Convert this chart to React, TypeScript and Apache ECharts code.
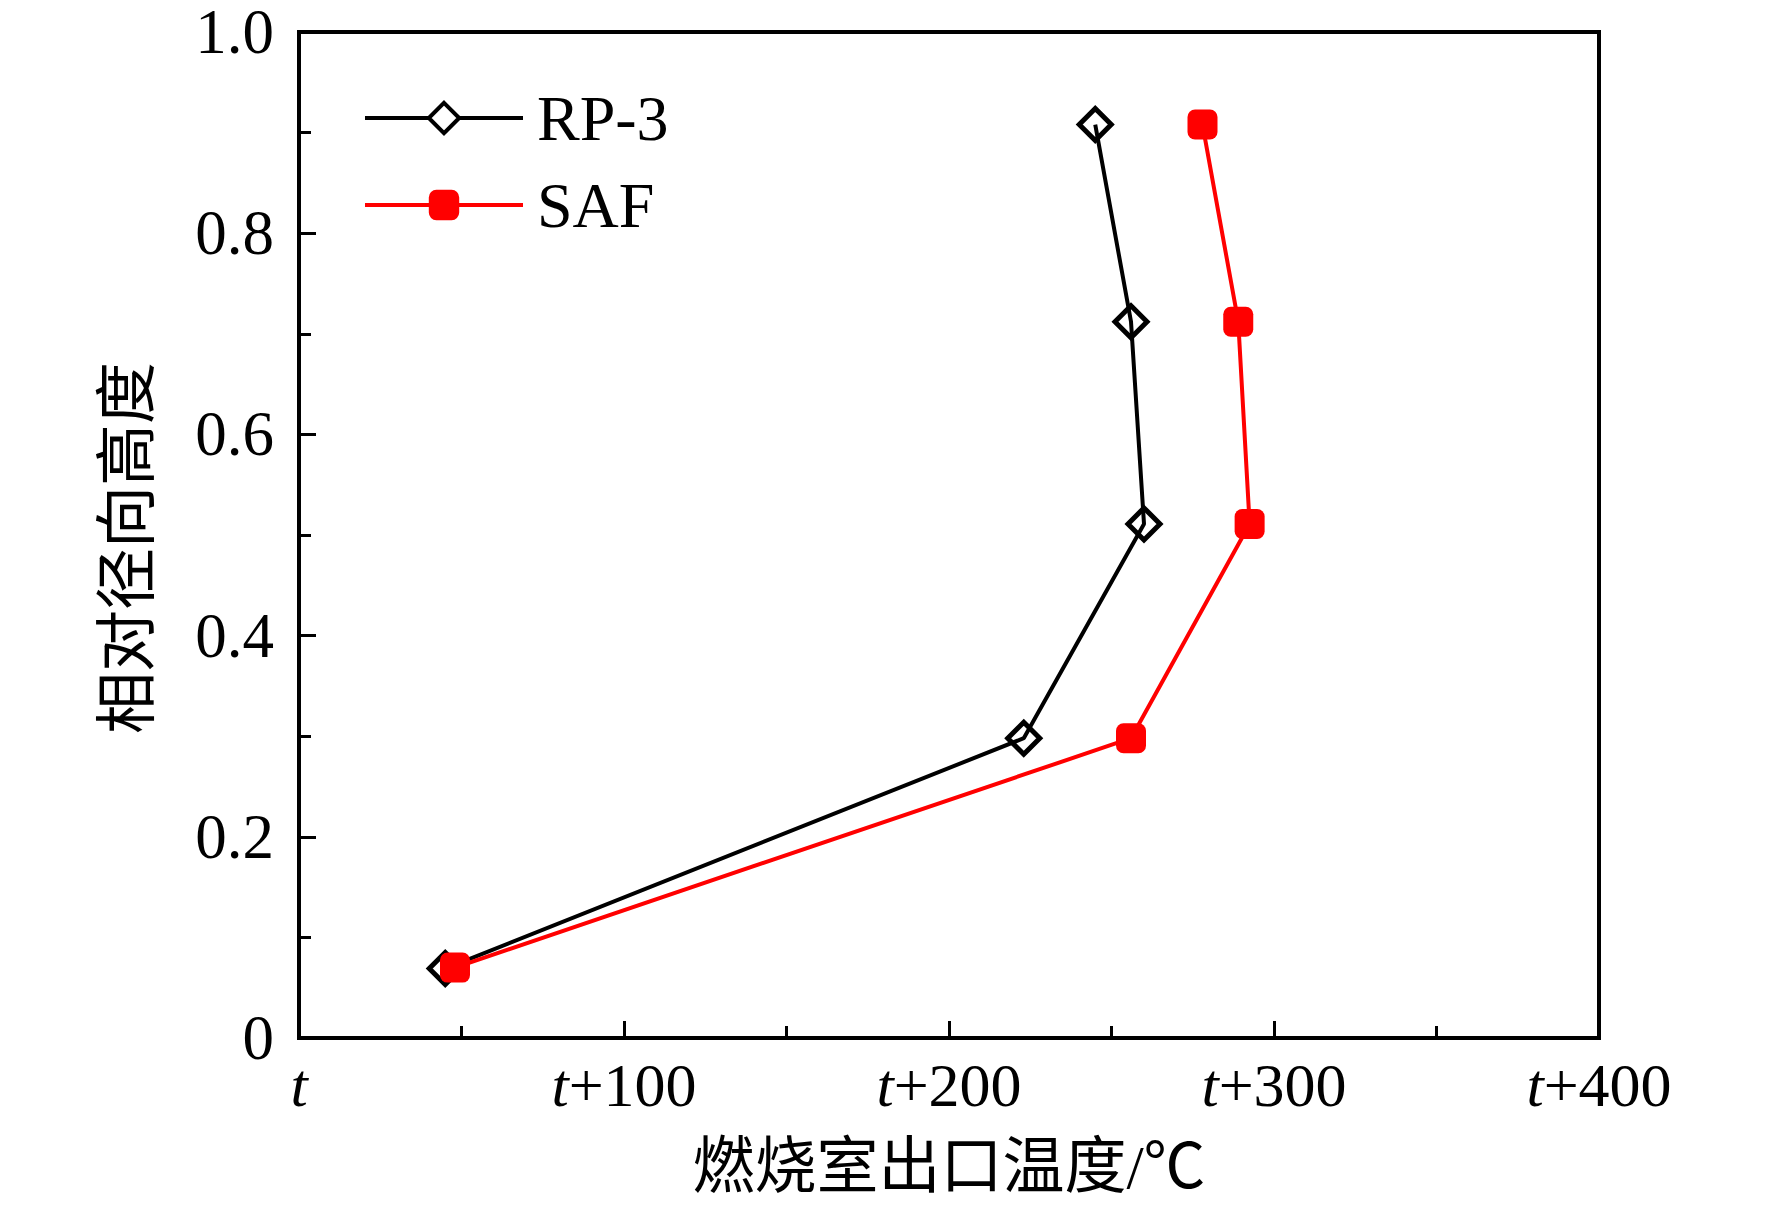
import React, { useEffect, useRef } from "react";
import * as echarts from "echarts";

const seriesNames = ["RP-3", "SAF"];
const rp3Points: [number, number][] = [
  [45, 0.069],
  [223, 0.298],
  [260, 0.511],
  [256, 0.712],
  [245, 0.908],
];
const safPoints: [number, number][] = [
  [48, 0.07],
  [256, 0.298],
  [292.5, 0.511],
  [289, 0.712],
  [278, 0.908],
];
const xTickValues = [0, 100, 200, 300, 400];
const yTickLabels = ["0", "0.2", "0.4", "0.6", "0.8", "1.0"];
const xTitle = "燃烧室出口温度/℃";
const yTitle = "相对径向高度";

const SERIF = "'Liberation Serif', 'Times New Roman', 'Noto Sans CJK SC', serif";
const CJK = "'Liberation Serif', 'Noto Sans CJK SC', serif";

export default function App() {
  const ref = useRef<HTMLDivElement>(null);
  useEffect(() => {
    document.body.style.margin = "0";
    if (!ref.current) return;
    const chart = echarts.init(ref.current, null, { renderer: "svg" });
    chart.setOption({
      animation: false,
      backgroundColor: "#ffffff",
      grid: {
        left: 299,
        top: 32,
        right: 173,
        bottom: 171,
        show: true,
        borderColor: "#000",
        borderWidth: 4,
        backgroundColor: "transparent",
      },
      legend: {
        orient: "vertical",
        left: 363,
        top: 86,
        padding: 0,
        itemWidth: 158,
        itemHeight: 38,
        itemGap: 23,
        data: [
          {
            name: seriesNames[0],
            itemStyle: { color: "#ffffff", borderColor: "#000", borderWidth: 4 },
            lineStyle: { color: "#000", width: 4 },
          },
          {
            name: seriesNames[1],
            itemStyle: { color: "#ff0000", borderWidth: 0 },
            lineStyle: { color: "#ff0000", width: 4 },
          },
        ],
        textStyle: {
          fontFamily: SERIF,
          fontSize: 64,
          lineHeight: 64,
          color: "#000",
          padding: [0, 0, 0, 9],
        },
      },
      xAxis: {
        type: "value",
        min: 0,
        max: 400,
        interval: 100,
        name: xTitle,
        nameLocation: "middle",
        nameGap: 97,
        nameTextStyle: {
          fontFamily: CJK,
          fontSize: 62,
          lineHeight: 64,
          color: "#000",
        },
        axisLine: { show: true, lineStyle: { color: "#000", width: 4 } },
        axisTick: { show: true, inside: true, length: 17, lineStyle: { color: "#000", width: 3 } },
        minorTick: { show: true, splitNumber: 2, length: 12, lineStyle: { color: "#000", width: 3 } },
        splitLine: { show: false },
        axisLabel: {
          margin: 15,
          fontFamily: SERIF,
          fontSize: 62,
          lineHeight: 64,
          color: "#000",
          formatter: (v: number) => {
            const idx = xTickValues.indexOf(v);
            if (idx < 0) return "";
            return v === 0 ? "{i|t}" : "{i|t}+" + v;
          },
          rich: {
            i: { fontFamily: SERIF, fontStyle: "italic", fontSize: 62, lineHeight: 64, color: "#000" },
          },
        },
      },
      yAxis: {
        type: "value",
        min: 0,
        max: 1,
        interval: 0.2,
        name: yTitle,
        nameLocation: "middle",
        nameGap: 139,
        nameTextStyle: {
          fontFamily: CJK,
          fontSize: 62,
          lineHeight: 64,
          color: "#000",
          padding: [0, 26, 0, 0],
        },
        axisLine: { show: true, lineStyle: { color: "#000", width: 4 } },
        axisTick: { show: true, inside: true, length: 17, lineStyle: { color: "#000", width: 3 } },
        minorTick: { show: true, splitNumber: 2, length: 12, lineStyle: { color: "#000", width: 3 } },
        splitLine: { show: false },
        axisLabel: {
          margin: 25,
          fontFamily: SERIF,
          fontSize: 63,
          lineHeight: 52,
          padding: [6, 0, 0, 0],
          color: "#000",
          formatter: (v: number) => {
            const idx = Math.round(v / 0.2);
            return yTickLabels[idx] ?? "";
          },
        },
      },
      series: [
        {
          name: seriesNames[0],
          type: "line",
          data: rp3Points,
          symbol: "diamond",
          symbolSize: 32,
          showAllSymbol: true,
          lineStyle: { color: "#000", width: 4 },
          itemStyle: { color: "rgba(255,255,255,0)", borderColor: "#000", borderWidth: 5 },
          emphasis: { disabled: true },
          z: 2,
        },
        {
          name: seriesNames[1],
          type: "line",
          data: safPoints,
          symbol: "roundRect",
          symbolSize: 30,
          showAllSymbol: true,
          lineStyle: { color: "#ff0000", width: 4 },
          itemStyle: { color: "#ff0000", borderWidth: 0 },
          emphasis: { disabled: true },
          z: 3,
        },
      ],
    });
    return () => chart.dispose();
  }, []);
  return <div ref={ref} style={{ width: 1772, height: 1209 }} />;
}
